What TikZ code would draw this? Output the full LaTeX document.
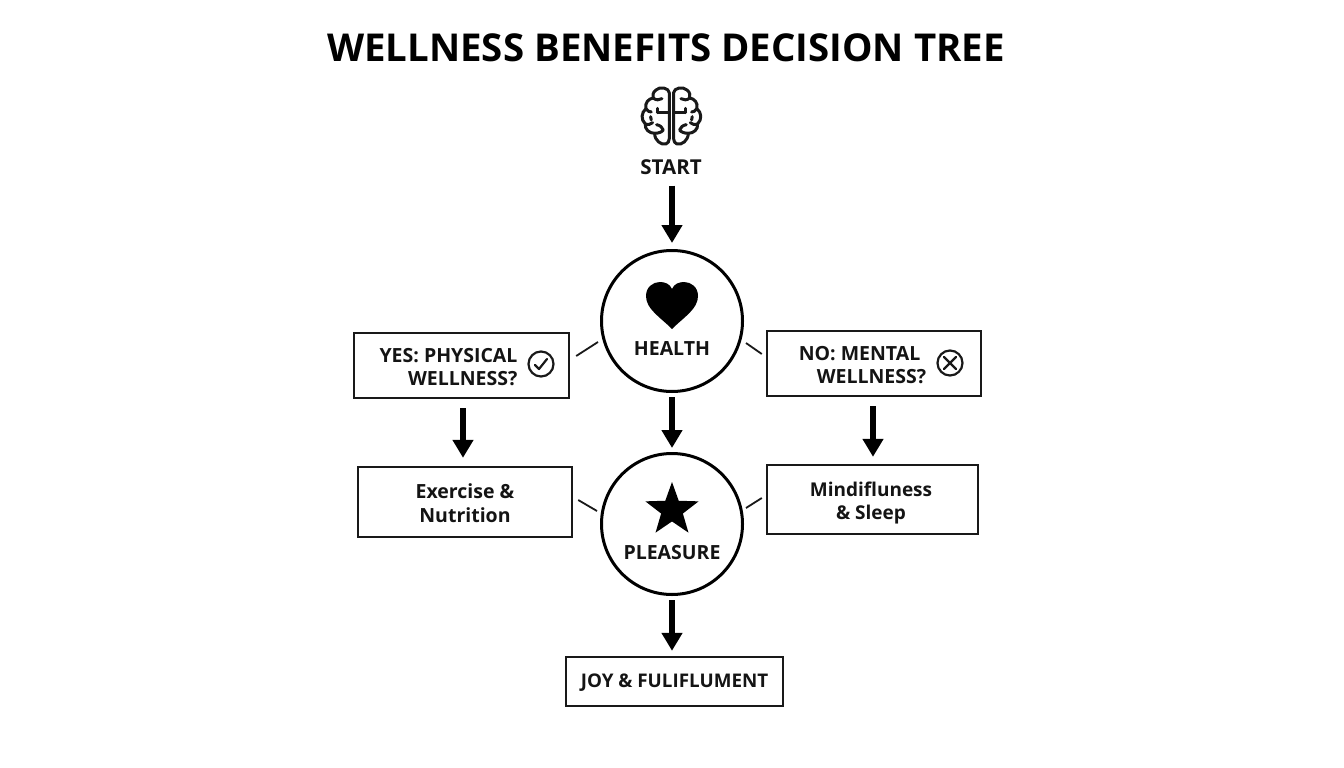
\documentclass[tikz,border=0pt]{standalone}
\usepackage{fontspec}
\setmainfont{Open Sans}
\usetikzlibrary{arrows.meta,shapes.geometric}
\tikzset{
  box/.style={draw=black!90,line width=2.4pt,fill=none,inner sep=0pt},
  ring/.style={circle,draw=black,line width=3pt,minimum size=141pt,inner sep=0pt},
  lab/.style={font=\fontsize{19.5}{23.5}\selectfont\bfseries,inner sep=0pt,text=black!92},
  arr/.style={line width=6.5pt,-{Triangle[width=20pt,length=18pt]},black},
  tick/.style={line width=1.8pt,black!90},
  iconring/.style={circle,draw=black!90,line width=2.2pt,minimum size=25pt,inner sep=0pt},
  brainline/.style={line width=3pt,black!90,line cap=round,line join=round}
}
\newcommand{\halfbrain}{%
  \draw[brainline] (208,112) -- (208,68) .. controls (207,54) and (180,48) .. (168,60)
    .. controls (158,68) and (158,76) .. (160,84)
    .. controls (146,86) and (134,98) .. (138,116)
    .. controls (124,128) and (122,148) .. (136,162)
    .. controls (134,178) and (148,190) .. (164,190)
    .. controls (164,212) and (184,226) .. (198,222)
    .. controls (204,220) and (208,214) .. (208,206) -- (208,112);
  \draw[brainline] (208,128) -- (172,128) (172,128) .. controls (170,122) and (170,120) .. (172,115);
  \draw[brainline] (160,84) .. controls (168,92) and (178,90) .. (186,86);
  \draw[brainline] (138,116) .. controls (144,124) and (148,126) .. (154,126);
  \draw[brainline] (152,140) -- (154,150);
  \draw[brainline] (136,162) .. controls (146,166) and (152,162) .. (158,158);
  \draw[brainline] (164,190) .. controls (176,190) and (186,186) .. (190,180) (170,164) .. controls (180,166) and (188,172) .. (190,180);
}
\begin{document}
\begin{tikzpicture}[x=1pt,y=-1pt]
\useasboundingbox (0,0) rectangle (1344,768);
\fill[white] (0,0) rectangle (1344,768);
% title
\node[inner sep=0pt,font=\fontsize{38.4}{42}\selectfont\bfseries] (title) at (666,47.5) {WELLNESS BENEFITS DECISION TREE};
% brain
\begin{scope}[x=.3333pt,y=-.3333pt,shift={(1800,210)}]
  \halfbrain
\end{scope}
\begin{scope}[x=-.3333pt,y=-.3333pt,shift={(-2229,210)}]
  \halfbrain
\end{scope}
\node[lab,font=\fontsize{20.5}{24}\selectfont\bfseries] (startn) at (671,167) {START};
% circles
\node[ring] (health) at (672,321) {};
\node[ring] (pleasure) at (672,524) {};
\node[lab] (healtht) at (672,349) {HEALTH};
\node[lab] (pleasuret) at (672,553) {PLEASURE};
% heart and star
\fill[black] (672,329) .. controls (660,317) and (646,309) .. (646,296)
  .. controls (646,287) and (653,282) .. (660,282)
  .. controls (665,282) and (670,284) .. (672,289)
  .. controls (674,284) and (679,282) .. (684,282)
  .. controls (691,282) and (698,287) .. (698,296)
  .. controls (698,309) and (684,317) .. (672,329) -- cycle;
\node[star,star points=5,star point ratio=2.45,fill=black,minimum size=56pt,inner sep=0pt] (starshape) at (672,510) {};
% boxes
\node[box,minimum width=215pt,minimum height=65pt] (yes) at (461.5,365.5) {};
\node[box,minimum width=214pt,minimum height=65pt] (no) at (874,363.5) {};
\node[box,minimum width=214pt,minimum height=70pt] (exer) at (465,502) {};
\node[box,minimum width=211pt,minimum height=69pt] (mind) at (872.5,499.5) {};
\node[box,minimum width=217pt,minimum height=49pt] (joy) at (674.5,681.5) {};
% texts
\node[lab,align=right] (yest) at (448.5,367) {YES: PHYSICAL\\WELLNESS?};
\node[lab,align=left] (not) at (862.5,365) {NO: MENTAL\\\hspace*{18pt}WELLNESS?};
\node[lab,align=center] (exert) at (465,503) {Exercise \&\\Nutrition};
\node[lab,align=center,font=\fontsize{19}{23.5}\selectfont\bfseries] (mindt) at (871,503) {Mindifluness\\\& Sleep};
\node[lab,font=\fontsize{18.8}{24}\selectfont\bfseries] (joyt) at (674.5,683) {JOY \& FULIFLUMENT};
% icons
\node[iconring] (chk) at (541,364) {};
\draw[line width=2.2pt,black!90,line cap=round,line join=round] ([shift={(-6,1)}]chk.center) -- ([shift={(-2,5)}]chk.center) -- ([shift={(6,-5)}]chk.center);
\node[iconring] (crs) at (950,363) {};
\draw[line width=2.2pt,black!90,line cap=round] ([shift={(-6,-6)}]crs.center) -- ([shift={(6,6)}]crs.center) ([shift={(-6,6)}]crs.center) -- ([shift={(6,-6)}]crs.center);
% arrows
\coordinate (pa) at (672,0);
\draw[arr,shorten <=11pt,shorten >=6pt] (pa |- startn.south) -- (pa |- health.north);
\draw[arr,shorten <=4pt,shorten >=4pt] (pa |- health.south) -- (pa |- pleasure.north);
\draw[arr,shorten <=4pt,shorten >=5pt] (pa |- pleasure.south) -- (pa |- joy.north);
\coordinate (ay) at (463,0);
\coordinate (an) at (873,0);
\draw[arr,shorten <=9pt,shorten >=8pt] (ay |- yes.south) -- (ay |- exer.north);
\draw[arr,shorten <=9pt,shorten >=7pt] (an |- no.south) -- (an |- mind.north);
% ticks
\draw[tick] ([shift={(6,-9.5)}]yes.east) -- ([shift={(-74,21)}]health.center);
\draw[tick] ([shift={(-4,-9.5)}]no.west) -- ([shift={(74,22)}]health.center);
\draw[tick] ([shift={(5,-2)}]exer.east) -- ([shift={(-75,-13)}]pleasure.center);
\draw[tick] ([shift={(-4,-1.5)}]mind.west) -- ([shift={(74,-16)}]pleasure.center);
\end{tikzpicture}
\end{document}
